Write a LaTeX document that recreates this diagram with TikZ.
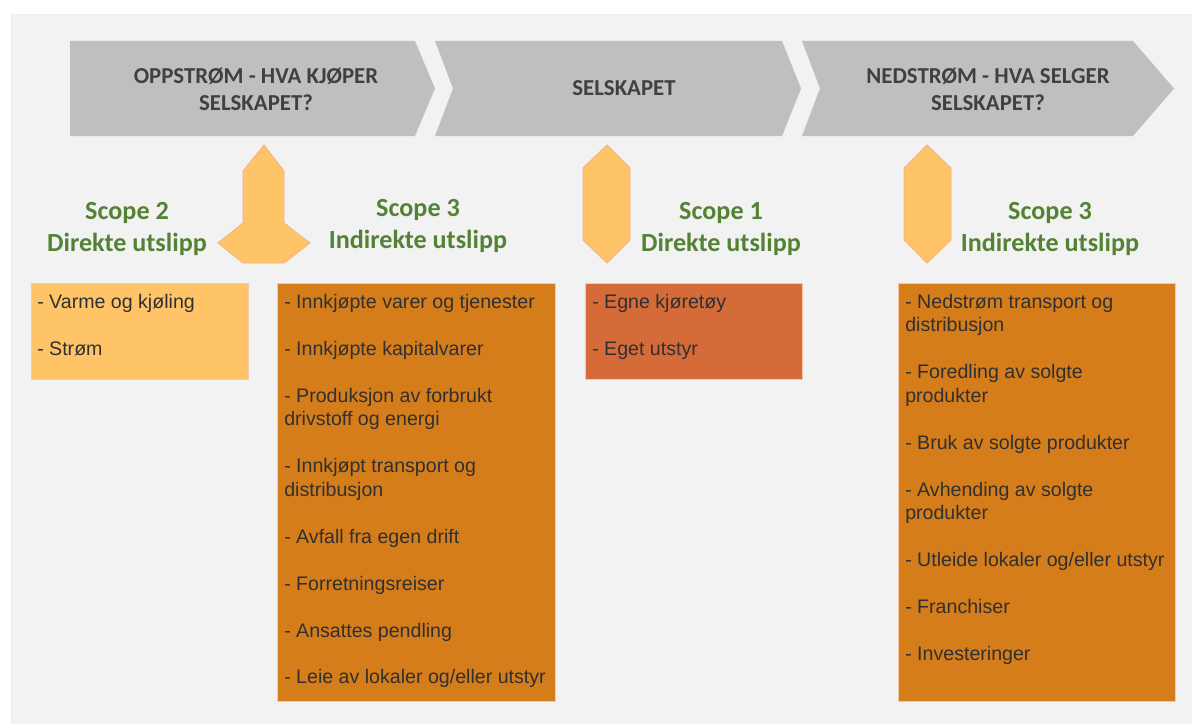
\documentclass[tikz,border=0pt]{standalone}
\usepackage{fontspec}
\setmainfont{Liberation Sans}
\newfontfamily\headfont{Carlito}
\usetikzlibrary{positioning}

\definecolor{panelgray}{HTML}{F2F2F2}
\definecolor{chevgray}{HTML}{BFBFBF}
\definecolor{headtext}{HTML}{404040}
\definecolor{scopegreen}{HTML}{548235}
\definecolor{lightorange}{HTML}{FFC467}
\definecolor{midorange}{HTML}{D57D1B}
\definecolor{redorange}{HTML}{D56B38}
\definecolor{peach}{HTML}{F4B183}
\definecolor{itemgray}{HTML}{303030}

\begin{document}
\begin{tikzpicture}[x=0.75pt, y=-0.75pt,
    chevron/.style={fill=chevgray},
    headlabel/.style={font=\headfont\bfseries\fontsize{17.1}{20.25}\selectfont,
                      text=headtext, align=center, inner sep=0pt},
    scopelabel/.style={font=\headfont\bfseries\fontsize{19.6}{23.8}\selectfont,
                       text=scopegreen, align=center, inner sep=0pt},
    marker/.style={fill=lightorange, draw=peach, line width=0.6pt},
    itembox/.style={draw=peach!70, line width=0.5pt},
    itemlist/.style={anchor=north west, align=left, inner sep=0pt, text=itemgray,
                     font=\fontsize{14.7}{17.6}\selectfont}]
  \useasboundingbox (0,0) rectangle (1192,724);
  \fill[white] (0,0) rectangle (1192,724);
  \filldraw[fill=panelgray, draw=black!8, line width=0.6pt] (11,14) rectangle (1195,727);

  % value chain
  \fill[chevron] (70,41) -- (415,41) -- (435,88.5) -- (415,136) -- (70,136) -- cycle;
  \fill[chevron] (435,41) -- (782,41) -- (801,88.5) -- (782,136) -- (435,136) -- (453,88.5) -- cycle;
  \fill[chevron] (802,41) -- (1133,41) -- (1174,88.5) -- (1133,136) -- (802,136) -- (820,88.5) -- cycle;
  \node[headlabel] (oppstrom) at (256,89) {OPPSTRØM - HVA KJØPER\\SELSKAPET?};
  \node[headlabel] (selskap)  at (624,88) {SELSKAPET};
  \node[headlabel] (nedstrom) at (988,89) {NEDSTRØM - HVA SELGER\\SELSKAPET?};

  % markers under the chain
  \filldraw[marker] (264,145) -- (284,171) -- (284,223) -- (310,243) -- (284,263) -- (243,263)
    -- (218,243) -- (243,223) -- (243,171) -- cycle;
  \filldraw[marker] (607,145) -- (630,168) -- (630,240) -- (607,263) -- (583,240) -- (583,168) -- cycle;
  \filldraw[marker] (927,145) -- (951,168) -- (951,240) -- (927,263) -- (904,240) -- (904,168) -- cycle;

  \node[scopelabel] (scopeto)    at (127,229)  {Scope 2\\Direkte utslipp};
  \node[scopelabel] (scopetreA)  at (418,226)  {Scope 3\\Indirekte utslipp};
  \node[scopelabel] (scopeen)    at (721,229)  {Scope 1\\Direkte utslipp};
  \node[scopelabel] (scopetreB)  at (1050,229) {Scope 3\\Indirekte utslipp};

  % emission sources
  \path[itembox, fill=lightorange] (31,283) rectangle (248,379);
  \path[itembox, fill=midorange]   (277,283) rectangle (555,701);
  \path[itembox, fill=redorange]   (585,283) rectangle (802,379);
  \path[itembox, fill=midorange]   (898,283) rectangle (1175,701);

  \node[itemlist] (toitems) at (37,294) {%
    - Varme og kjøling\\[17.6pt]
    - Strøm};
  \node[itemlist] (treAitems) at (284,294) {%
    - Innkjøpte varer og tjenester\\[17.6pt]
    - Innkjøpte kapitalvarer\\[17.6pt]
    - Produksjon av forbrukt\\drivstoff og energi\\[17.6pt]
    - Innkjøpt transport og\\distribusjon\\[17.6pt]
    - Avfall fra egen drift\\[17.6pt]
    - Forretningsreiser\\[17.6pt]
    - Ansattes pendling\\[17.6pt]
    - Leie av lokaler og/eller utstyr};
  \node[itemlist] (enitems) at (592,294) {%
    - Egne kjøretøy\\[17.6pt]
    - Eget utstyr};
  \node[itemlist] (treBitems) at (905,294) {%
    - Nedstrøm transport og\\distribusjon\\[17.6pt]
    - Foredling av solgte\\produkter\\[17.6pt]
    - Bruk av solgte produkter\\[17.6pt]
    - Avhending av solgte\\produkter\\[17.6pt]
    - Utleide lokaler og/eller utstyr\\[17.6pt]
    - Franchiser\\[17.6pt]
    - Investeringer};
\end{tikzpicture}
\end{document}
